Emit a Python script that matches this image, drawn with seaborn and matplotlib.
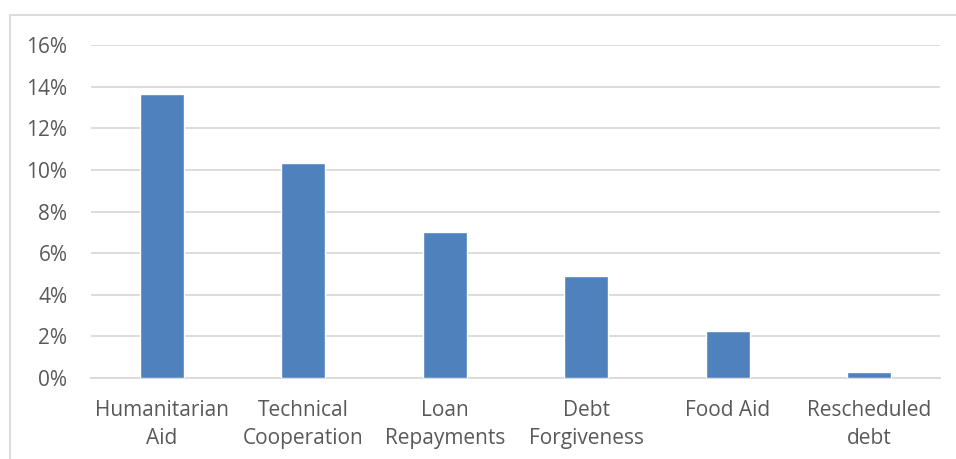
import matplotlib
matplotlib.use("Agg")
import matplotlib.pyplot as plt
import matplotlib.patches as mpatches
from matplotlib.ticker import FuncFormatter, MultipleLocator
import seaborn as sns
import pandas as pd

categories = ["Humanitarian\nAid", "Technical\nCooperation", "Loan\nRepayments",
              "Debt\nForgiveness", "Food Aid", "Rescheduled\ndebt"]
values = [13.65, 10.35, 7.02, 4.9, 2.26, 0.3]

sns.set_theme(style="white")
plt.rcParams['font.family'] = ['Open Sans', 'DejaVu Sans']

df = pd.DataFrame({"cat": categories, "val": values})

W, H = 956, 459
fig = plt.figure(figsize=(W / 100, H / 100), dpi=100)
ax = fig.add_axes([91 / W, 1 - 378 / H, (940 - 91) / W, (378 - 45) / H])

sns.barplot(data=df, x="cat", y="val", color="#4F81BD", saturation=1,
            width=0.31, ax=ax, zorder=3)

ax.set_ylim(0, 16)
ax.yaxis.set_major_locator(MultipleLocator(2))
ax.yaxis.set_major_formatter(FuncFormatter(lambda v, p: f"{int(round(v))}%"))
ax.grid(axis="y", color="#D9D9D9", linewidth=1.3, zorder=0)
ax.set_axisbelow(True)
for s in ["top", "right", "left"]:
    ax.spines[s].set_visible(False)
ax.spines["bottom"].set_color("#D9D9D9")
ax.spines["bottom"].set_linewidth(1.3)
ax.set_xlabel("")
ax.set_ylabel("")
ax.tick_params(axis="both", length=0, colors="#595959", labelsize=15)
ax.tick_params(axis="y", pad=17)
ax.tick_params(axis="x", pad=16)
for t in ax.get_xticklabels():
    t.set_linespacing(1.45)

# outer chart frame
frame = mpatches.Rectangle((10 / W, -0.1), 1.2, 1 - 15 / H + 0.1,
                           transform=fig.transFigure, fill=False,
                           edgecolor="#D9D9D9", linewidth=1.3)
fig.patches.append(frame)

fig.savefig("out.png", dpi=100)
